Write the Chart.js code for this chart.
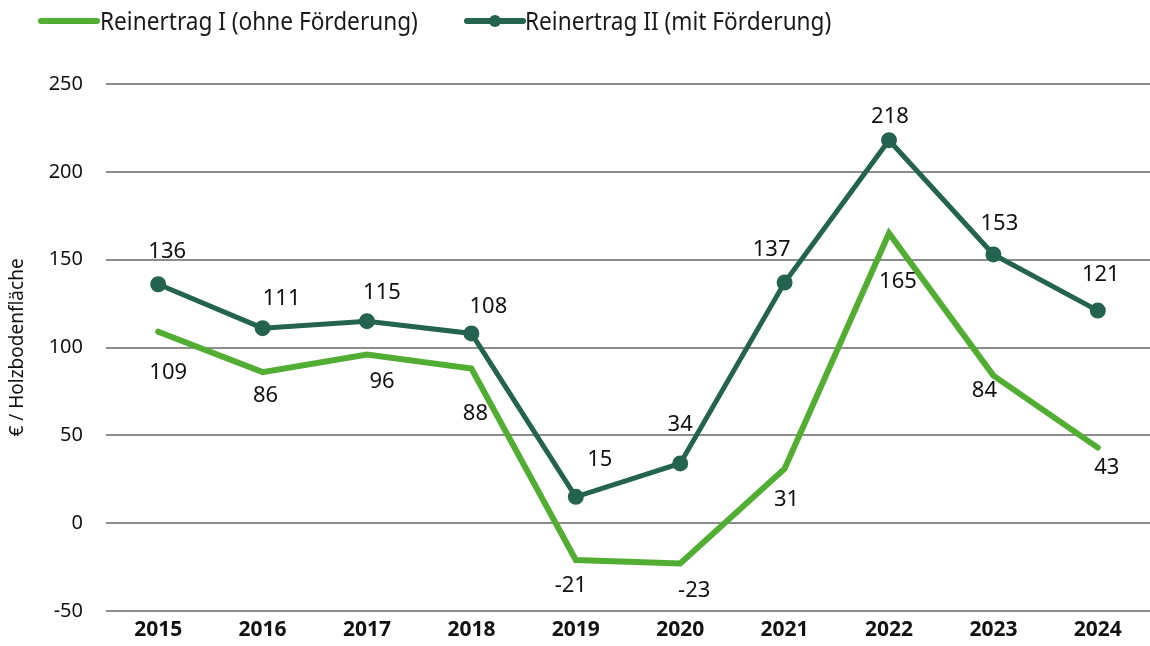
<!DOCTYPE html>
<html lang="de">
<head>
    <meta charset="UTF-8">
    <title>Reinertrag</title>
    <script src="https://cdn.jsdelivr.net/npm/chart.js"></script>
    <style>
        body { margin: 0; background: #fff; }
        #wrap { position: relative; width: 1150px; height: 646px; }
        #legende { position: absolute; top: 0; left: 0; height: 42px; width: 1150px;
                   font-family: "Noto Sans", sans-serif; font-size: 26px; color: #1a1a1a; }
        .linie { position: absolute; top: 18px; height: 6px; border-radius: 3px; }
        .punkt { position: absolute; top: 15px; width: 12px; height: 12px; border-radius: 6px; }
        .text { position: absolute; top: 2px; line-height: 36px; white-space: nowrap;
                transform: scaleX(0.87); transform-origin: left center; }
    </style>
</head>
<body>
<div id="wrap">
    <canvas id="grafik" width="1150" height="646"></canvas>
    <div id="legende"></div>
</div>
<script>
    const jahre = ['2015', '2016', '2017', '2018', '2019', '2020', '2021', '2022', '2023', '2024'];
    const reinertragOhne = [109, 86, 96, 88, -21, -23, 31, 165, 84, 43];
    const reinertragMit = [136, 111, 115, 108, 15, 34, 137, 218, 153, 121];
    const serienNamen = ['Reinertrag I (ohne Förderung)', 'Reinertrag II (mit Förderung)'];
    const yTicks = [-50, 0, 50, 100, 150, 200, 250];

    const hellgruen = '#52ae32';
    const dunkelgruen = '#23634f';

    // Legende als HTML-Text
    const legende = document.getElementById('legende');
    const legPos = [{ linie: 38, text: 100 }, { linie: 464, text: 525 }];
    [hellgruen, dunkelgruen].forEach((farbe, i) => {
        const p = legPos[i];
        let html = `<div class="linie" style="left:${p.linie}px;width:62px;background:${farbe}"></div>`;
        if (i === 1) html += `<div class="punkt" style="left:${p.linie + 25}px;background:${farbe}"></div>`;
        html += `<div class="text" style="left:${p.text}px">${serienNamen[i]}</div>`;
        legende.innerHTML += html;
    });

    // Wertebeschriftungen an den Punkten
    const wertLabels = {
        id: 'wertLabels',
        afterDatasetsDraw(chart) {
            const ctx = chart.ctx;
            ctx.save();
            ctx.font = '22px "Noto Sans", sans-serif';
            ctx.fillStyle = '#111';
            ctx.textAlign = 'center';
            ctx.textBaseline = 'middle';
            chart.data.datasets.forEach((ds, i) => {
                const meta = chart.getDatasetMeta(i);
                meta.data.forEach((pt, j) => {
                    const v = ds.labelVersatz[j];
                    ctx.fillText(String(ds.data[j]), pt.x + v[0], pt.y + v[1]);
                });
            });
            ctx.restore();
        }
    };

    new Chart(document.getElementById('grafik'), {
        type: 'line',
        data: {
            labels: jahre,
            datasets: [
                {
                    label: serienNamen[0],
                    data: reinertragOhne,
                    borderColor: hellgruen,
                    backgroundColor: hellgruen,
                    borderWidth: 6,
                    pointRadius: 0,
                    borderCapStyle: 'round',
                    borderJoinStyle: 'miter',
                    tension: 0,
                    order: 2,
                    labelVersatz: [[10, 41], [3, 24], [15, 27], [4, 45], [-5, 26], [14, 27], [2, 31], [9, 48], [-9, 15], [9, 20]]
                },
                {
                    label: serienNamen[1],
                    data: reinertragMit,
                    borderColor: dunkelgruen,
                    backgroundColor: dunkelgruen,
                    borderWidth: 5,
                    pointRadius: 5.5,
                    pointHoverRadius: 5.5,
                    borderJoinStyle: 'miter',
                    tension: 0,
                    order: 1,
                    labelVersatz: [[9, -33], [19, -29], [15, -28], [17, -27], [24, -37], [0, -39], [-13, -33], [1, -23], [6, -31], [3, -36]]
                }
            ]
        },
        options: {
            responsive: false,
            animation: false,
            layout: { autoPadding: false, padding: { top: 84, right: 0, bottom: -7, left: 0 } },
            plugins: {
                legend: { display: false },
                tooltip: { enabled: false }
            },
            scales: {
                x: {
                    offset: true,
                    grid: { display: false, drawTicks: false, tickLength: 0 },
                    border: { display: false },
                    ticks: {
                        padding: 6,
                        color: '#111',
                        font: { family: 'Noto Sans', size: 21, weight: 'bold', lineHeight: 1.2 }
                    }
                },
                y: {
                    min: -50,
                    max: 250,
                    afterBuildTicks: (scale) => { scale.ticks = yTicks.map(v => ({ value: v })); },
                    afterFit: (scale) => { scale.width = 106; },
                    grid: { color: '#8c8c8c', lineWidth: 2, drawTicks: false },
                    border: { display: false },
                    ticks: {
                        padding: 23,
                        color: '#111',
                        font: { family: 'Noto Sans', size: 20 }
                    },
                    title: {
                        display: true,
                        text: '€ / Holzbodenfläche',
                        color: '#111',
                        padding: { top: 6, bottom: 0 },
                        font: { family: 'Noto Sans', size: 19 }
                    }
                }
            }
        },
        plugins: [wertLabels]
    });
</script>
</body>
</html>
